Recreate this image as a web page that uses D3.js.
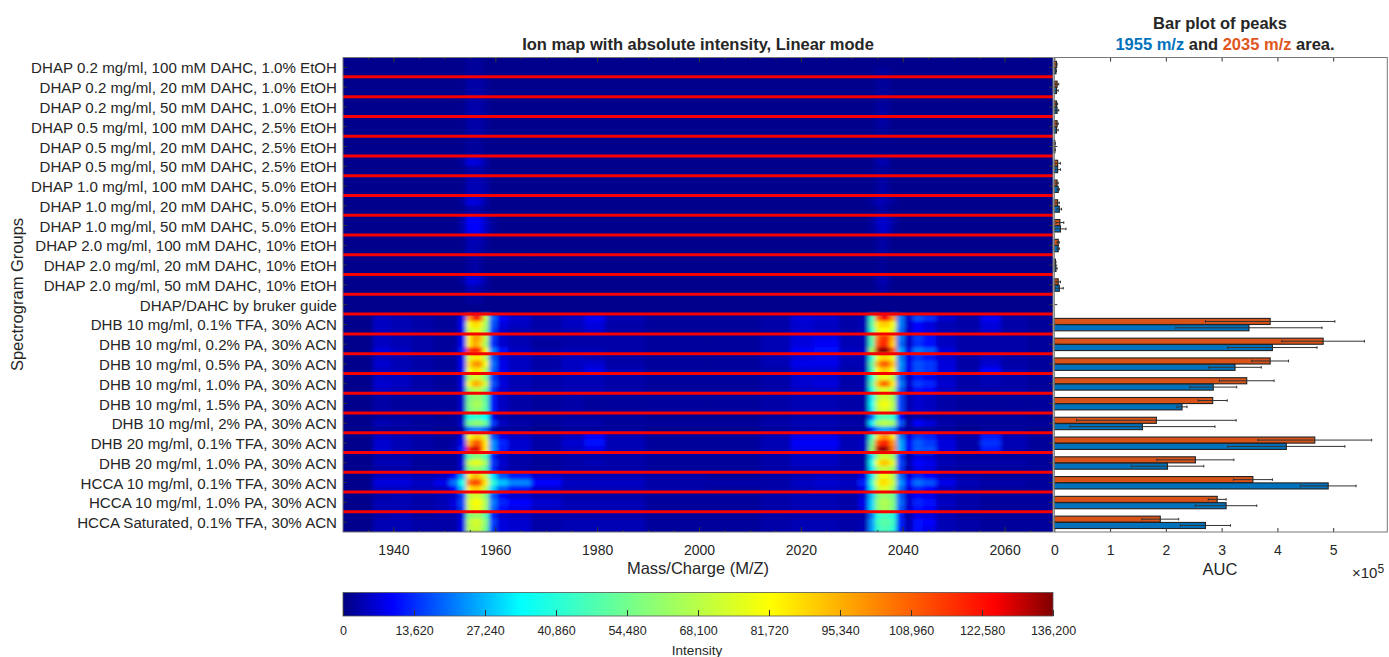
<!DOCTYPE html>
<html lang="en">

<head>
  <meta charset="UTF-8">
  <title>Ion map</title>
  <script src="https://d3js.org/d3.v7.min.js"></script>
  <style>
    body { margin: 0; background: #fff; }
    text { font-family: "Liberation Sans", Arial, sans-serif; fill: #262626; }
    .domain { display: none; }
    .tick line { stroke: #333; }
  </style>
</head>

<body>
  <div id="container"></div>

  <script>
    var groups = [
      "DHAP 0.2 mg/ml, 100 mM DAHC, 1.0% EtOH", "DHAP 0.2 mg/ml, 20 mM DAHC, 1.0% EtOH", "DHAP 0.2 mg/ml, 50 mM DAHC, 1.0% EtOH",
      "DHAP 0.5 mg/ml, 100 mM DAHC, 2.5% EtOH", "DHAP 0.5 mg/ml, 20 mM DAHC, 2.5% EtOH", "DHAP 0.5 mg/ml, 50 mM DAHC, 2.5% EtOH",
      "DHAP 1.0 mg/ml, 100 mM DAHC, 5.0% EtOH", "DHAP 1.0 mg/ml, 20 mM DAHC, 5.0% EtOH", "DHAP 1.0 mg/ml, 50 mM DAHC, 5.0% EtOH",
      "DHAP 2.0 mg/ml, 100 mM DAHC, 10% EtOH", "DHAP 2.0 mg/ml, 20 mM DAHC, 10% EtOH", "DHAP 2.0 mg/ml, 50 mM DAHC, 10% EtOH",
      "DHAP/DAHC by bruker guide", "DHB 10 mg/ml, 0.1% TFA, 30% ACN", "DHB 10 mg/ml, 0.2% PA, 30% ACN", "DHB 10 mg/ml, 0.5% PA, 30% ACN",
      "DHB 10 mg/ml, 1.0% PA, 30% ACN", "DHB 10 mg/ml, 1.5% PA, 30% ACN", "DHB 10 mg/ml, 2% PA, 30% ACN", "DHB 20 mg/ml, 0.1% TFA, 30% ACN",
      "DHB 20 mg/ml, 1.0% PA, 30% ACN", "HCCA 10 mg/ml, 0.1% TFA, 30% ACN", "HCCA 10 mg/ml, 1.0% PA, 30% ACN", "HCCA Saturated, 0.1% TFA, 30% ACN"
    ];

    // bar plot, units of 1e5
    var auc2035 = [0.04, 0.05, 0.04, 0.05, 0.01, 0.06, 0.05, 0.06, 0.10, 0.07, 0.02, 0.07, 0, 3.87, 4.82, 3.87, 3.45, 2.84, 1.83, 4.67, 2.53, 3.56, 2.92, 1.90];
    var err2035 = [0.01, 0.03, 0.02, 0.02, 0.01, 0.05, 0.02, 0.03, 0.07, 0.02, 0.01, 0.04, 0, 1.16, 0.74, 0.33, 0.49, 0.26, 1.43, 1.02, 0.69, 0.35, 0.16, 0.33];
    var auc1955 = [0.03, 0.04, 0.05, 0.04, 0.01, 0.06, 0.07, 0.09, 0.11, 0.07, 0.03, 0.09, 0, 3.49, 3.91, 3.24, 2.85, 2.29, 1.58, 4.16, 2.03, 4.91, 3.08, 2.71];
    var err1955 = [0.01, 0.03, 0.03, 0.03, 0.01, 0.05, 0.02, 0.04, 0.10, 0.02, 0.02, 0.07, 0, 1.31, 0.80, 0.47, 0.42, 0.09, 1.30, 1.05, 0.65, 0.50, 0.55, 0.45];

    var aucTicks = [0, 1, 2, 3, 4, 5];
    var mzTicks = [1940, 1960, 1980, 2000, 2020, 2040, 2060];
    var intensityTicks = [0, 13620, 27240, 40860, 54480, 68100, 81720, 95340, 108960, 122580, 136200];

    // m/z of each heatmap column
    var mzBins = [1934, 1938, 1941, 1946, 1950, 1952, 1953.5, 1955, 1956, 1957, 1958, 1959.5, 1961, 1964, 1970, 1976, 1979, 1984, 1995, 2008, 2016, 2020, 2025, 2030, 2032.5, 2034, 2035, 2036, 2037, 2038, 2039.5, 2041, 2043, 2045, 2048, 2053, 2057.5, 2061, 2068];

    // intensity in thousands; one list of spectra rows for each group, top to bottom
    var ionRows = [
      [[1,1,1,1,1,1,1,2,2,2,1,1,1,1,1,1,1,1,1,1,1,1,1,1,1,1,1,1,1,1,1,1,1,1,1,1,1,1,1],
       [1,1,1,1,1,1,1,2,2,2,1,1,1,1,1,1,1,1,1,1,1,1,1,1,1,1,2,2,2,1,1,1,1,1,1,1,1,1,1]],
      [[1,1,1,1,1,1,1,3,3,3,2,1,1,1,1,1,1,1,1,1,1,1,1,1,1,1,2,2,2,1,1,1,1,1,1,1,1,1,1],
       [1,1,1,1,1,1,1,3,3,3,2,1,1,1,1,1,1,1,1,1,1,1,1,1,1,1,2,2,2,1,1,1,1,1,1,1,1,1,1]],
      [[1,1,1,1,1,1,1,3,3,3,2,1,1,1,1,1,1,1,1,1,1,1,1,1,1,1,2,2,2,1,1,1,1,1,1,1,1,1,1],
       [1,1,1,1,1,1,1,3,4,3,2,1,1,1,1,1,1,1,1,1,1,1,1,1,1,1,2,3,2,1,1,1,1,1,1,1,1,1,1]],
      [[1,1,1,1,1,1,1,3,3,3,2,1,1,1,1,1,1,1,1,1,1,1,1,1,1,1,2,3,2,1,1,1,1,1,1,1,1,1,1],
       [1,1,1,1,1,1,1,3,3,3,2,1,1,1,1,1,1,1,1,1,1,1,1,1,1,1,2,2,2,1,1,1,1,1,1,1,1,1,1]],
      [[1,1,1,1,1,1,1,2,2,2,1,1,1,1,1,1,1,1,1,1,1,1,1,1,1,1,1,1,1,1,1,1,1,1,1,1,1,1,1],
       [1,1,1,1,1,1,1,2,2,2,1,1,1,1,1,1,1,1,1,1,1,1,1,1,1,1,1,1,1,1,1,1,1,1,1,1,1,1,1]],
      [[1,1,1,1,1,1,2,7,7,6,3,1,1,1,1,1,1,1,1,1,1,1,1,1,1,1,3,4,3,1,1,1,1,1,1,1,1,1,1],
       [1,1,1,1,1,1,1,3,3,3,2,1,1,1,1,1,1,1,1,1,1,1,1,1,1,1,2,2,2,1,1,1,1,1,1,1,1,1,1]],
      [[1,1,1,1,1,1,1,4,4,4,3,1,1,1,1,1,1,1,1,1,1,1,1,1,1,1,2,3,2,1,1,1,1,1,1,1,1,1,1],
       [1,1,1,1,1,1,1,4,4,4,3,1,1,1,1,1,1,1,1,1,1,1,1,1,1,1,2,3,2,1,1,1,1,1,1,1,1,1,1]],
      [[1,1,1,1,1,1,2,7,7,6,3,1,1,1,1,1,1,1,1,1,1,1,1,1,1,2,4,4,3,2,1,1,1,1,1,1,1,1,1],
       [1,1,1,1,1,1,1,3,4,3,2,1,1,1,1,1,1,1,1,1,1,1,1,1,1,1,2,3,2,1,1,1,1,1,1,1,1,1,1]],
      [[1,1,1,1,1,1,3,10,10,9,5,2,1,1,1,1,1,1,1,1,1,1,1,1,1,2,5,6,5,3,1,1,1,1,1,1,1,1,1],
       [1,1,1,1,1,1,3,9,10,9,5,2,1,1,1,1,1,1,1,1,1,1,1,1,1,2,4,6,5,2,1,1,1,1,1,1,1,1,1]],
      [[1,1,1,1,1,1,1,4,4,4,2,1,1,1,1,1,1,1,1,1,1,1,1,1,1,1,2,3,2,1,1,1,1,1,1,1,1,1,1],
       [1,1,1,1,1,1,1,4,4,3,2,1,1,1,1,1,1,1,1,1,1,1,1,1,1,1,2,3,2,1,1,1,1,1,1,1,1,1,1]],
      [[1,1,1,1,1,1,1,2,3,2,1,1,1,1,1,1,1,1,1,1,1,1,1,1,1,1,1,2,1,1,1,1,1,1,1,1,1,1,1],
       [1,1,1,1,1,1,1,2,3,2,1,1,1,1,1,1,1,1,1,1,1,1,1,1,1,1,1,2,1,1,1,1,1,1,1,1,1,1,1]],
      [[1,1,1,1,1,1,2,7,7,6,3,1,1,1,1,1,1,1,1,1,1,1,1,1,1,1,3,4,3,1,1,1,1,1,1,1,1,1,1],
       [1,1,1,1,1,1,1,4,4,3,2,1,1,1,1,1,1,1,1,1,1,1,1,1,1,1,2,3,2,1,1,1,1,1,1,1,1,1,1]],
      [[1,1,1,1,1,1,1,2,2,2,1,1,1,1,1,1,1,1,1,1,1,1,1,1,1,1,1,1,1,1,1,1,1,1,1,1,1,1,1],
       [1,1,1,1,1,1,1,1,1,1,1,1,1,1,1,1,1,1,1,1,1,1,1,1,1,1,1,1,1,1,1,1,1,1,1,1,1,1,1]],
      [[1,5,4,3,2,2,8,100,125,115,70,20,10,6,3,5,9,4,2,2,3,7,6,3,4,45,105,125,125,100,22,6,17,14,6,3,9,3,2],
       [1,5,4,3,2,2,9,80,88,85,65,18,7,5,3,5,7,3,2,2,3,6,5,3,4,50,85,90,90,80,22,6,10,7,4,3,7,3,2],
       [1,5,4,3,2,2,8,72,78,75,60,15,6,4,3,4,6,3,2,2,3,6,5,3,4,42,75,82,82,72,20,5,10,7,4,3,6,3,2]],
      [[1,5,4,3,2,2,9,85,100,95,70,15,6,4,3,3,3,3,2,2,4,7,8,4,4,50,105,118,115,95,22,6,15,11,5,3,3,3,2],
       [1,5,4,3,2,2,9,85,98,90,65,14,6,4,2,3,3,3,2,2,4,7,9,4,4,48,110,120,115,90,20,5,14,11,5,3,3,3,2],
       [1,7,5,3,2,3,12,115,125,115,80,22,11,5,3,4,4,3,2,2,4,9,11,5,5,65,130,136,133,110,26,8,21,18,7,3,3,3,2]],
      [[1,5,4,3,2,2,8,75,85,85,68,18,7,5,3,5,4,3,2,2,4,7,8,4,4,40,78,88,88,78,22,8,14,11,6,3,5,3,2],
       [1,6,4,3,2,2,9,88,100,100,80,21,8,5,3,5,6,3,2,2,4,8,8,4,4,50,95,110,108,92,24,8,17,15,7,3,6,3,2],
       [1,5,4,3,2,2,9,80,88,85,68,19,8,5,3,5,8,4,2,2,3,6,6,3,4,45,82,92,90,80,23,8,17,15,7,3,10,4,2]],
      [[1,5,5,3,2,2,7,65,75,72,58,15,6,4,3,4,4,3,2,2,3,6,6,3,3,38,72,78,78,68,18,5,11,8,5,3,4,3,2],
       [1,6,5,3,2,2,8,80,98,92,72,18,7,4,3,4,4,3,2,2,3,6,7,3,4,48,90,108,105,85,22,6,15,13,6,3,4,3,2],
       [1,5,4,3,2,2,7,62,70,68,55,14,6,4,3,4,4,3,2,2,3,5,5,3,3,38,68,76,75,65,18,5,11,10,5,3,3,3,2]],
      [[1,3,2,2,2,2,6,55,60,60,50,12,5,3,2,3,2,2,2,2,3,4,4,3,3,32,65,72,72,62,16,4,6,5,3,2,2,2,2],
       [1,3,2,2,2,2,6,58,65,65,52,12,5,3,2,3,2,2,2,2,3,4,4,3,3,35,72,80,80,68,16,4,6,5,3,2,2,2,2],
       [1,3,2,2,2,2,6,55,62,60,50,12,5,3,2,3,2,2,2,2,3,4,4,3,3,32,68,76,75,65,16,4,6,5,3,2,2,2,2]],
      [[1,2,2,2,1,2,4,38,42,42,35,8,3,2,2,2,2,2,1,1,2,3,3,2,2,18,42,48,48,42,10,2,3,2,2,2,2,2,1],
       [1,4,3,2,2,2,6,55,60,60,52,15,5,3,2,3,3,2,2,2,3,4,4,3,3,32,62,68,68,62,18,3,10,7,3,2,2,2,2],
       [1,2,2,2,1,1,3,20,22,22,18,4,2,2,1,2,2,2,1,1,2,3,3,2,2,10,22,25,25,22,5,2,2,2,2,1,2,2,1]],
      [[1,5,4,3,2,2,7,80,90,90,72,18,8,5,3,5,10,4,2,2,4,8,8,4,4,42,88,100,100,85,22,7,15,13,6,3,12,4,2],
       [1,6,4,3,2,3,9,95,112,108,85,24,13,6,3,6,11,4,2,2,4,9,9,4,5,55,110,122,118,100,26,9,18,15,7,3,14,4,2],
       [1,6,4,3,2,4,12,120,130,120,85,24,12,6,3,5,8,4,2,2,4,8,8,4,5,60,130,135,132,105,26,9,18,17,7,3,12,4,2]],
      [[1,3,3,2,2,2,6,50,58,58,48,12,5,3,2,3,3,3,2,2,3,5,5,3,3,30,62,72,72,62,14,3,7,6,3,2,2,2,2],
       [1,4,4,2,2,2,7,70,78,75,62,15,6,3,2,3,4,3,2,2,3,5,5,3,3,38,80,92,90,76,16,4,10,8,4,3,3,3,2],
       [1,3,3,2,2,2,6,58,62,60,50,13,5,3,2,3,3,3,2,2,3,4,4,3,3,32,62,72,70,62,15,3,8,7,3,2,2,2,2]],
      [[1,5,5,4,5,10,26,85,95,90,70,32,18,12,6,4,4,4,3,2,3,4,5,4,7,32,70,80,78,68,20,7,13,10,5,3,2,2,2],
       [1,7,7,5,8,20,38,105,115,108,85,42,28,22,10,5,5,5,3,3,3,5,6,5,12,42,78,88,85,72,24,10,20,17,8,4,3,3,2],
       [1,5,5,4,5,10,28,85,92,88,68,30,18,12,6,4,4,4,3,2,3,4,5,4,8,32,68,76,74,62,20,7,13,10,5,3,2,2,2]],
      [[1,3,4,3,4,5,14,68,75,72,58,18,9,6,4,3,3,3,2,2,3,4,4,3,6,28,55,62,60,55,18,6,10,8,4,3,2,2,2],
       [1,4,4,3,4,7,16,75,82,80,65,22,13,10,6,4,4,4,2,2,3,4,4,3,8,30,60,66,66,58,20,6,13,11,5,3,2,2,2],
       [1,4,4,3,4,6,15,72,80,78,62,20,11,8,5,4,4,4,2,2,3,4,4,3,7,30,58,65,64,56,18,6,11,10,4,3,2,2,2]],
      [[1,3,4,2,3,3,7,58,62,62,50,13,6,5,3,3,3,3,2,2,3,3,3,3,3,20,40,45,45,40,12,3,8,7,4,2,2,2,2],
       [1,4,4,3,3,3,8,68,75,72,58,16,7,6,3,4,4,4,2,2,3,4,4,3,4,24,45,50,50,45,13,4,11,10,4,3,2,2,2],
       [1,4,4,3,3,3,8,68,72,70,55,15,7,6,3,4,4,4,2,2,3,4,4,3,4,24,42,48,48,42,12,4,11,8,4,3,2,2,2]]
    ];

    var width = 1389, height = 657,
      mapLeft = 343, mapRight = 1053, barLeft = 1054.3, barRight = 1387.3,
      plotTop = 57.5, plotBottom = 532, orange = "#d95319", blue = "#0072bd";

    var svg = d3.select("#container").append("svg")
      .attr("width", width)
      .attr("height", height)
      .style("display", "block");

    var x = d3.scaleLinear().domain([1930.1, 2069.5]).range([mapLeft, mapRight]);
    var y = d3.scaleBand().domain(groups).range([plotTop, plotBottom]);
    var xBar = d3.scaleLinear().domain([0, 5.97]).range([barLeft, barRight]);

    // modified jet from the colorbar
    var color = d3.scaleLinear()
      .domain([0, 9.5, 34, 57, 82, 125, 136.2])
      .range(["#000080", "#0000ff", "#00ffff", "#80ff80", "#ffff00", "#ff0000", "#7f0000"]);

    var defs = svg.append("defs");
    defs.append("filter").attr("id", "soft")
      .attr("x", "-2%").attr("y", "-2%").attr("width", "104%").attr("height", "104%")
      .append("feGaussianBlur").attr("stdDeviation", "2 1.7");
    defs.append("clipPath").attr("id", "mapClip").append("rect")
      .attr("x", mapLeft).attr("y", plotTop).attr("width", mapRight - mapLeft).attr("height", plotBottom - plotTop);

    //cell edges halfway between the bins
    var edges = mzBins.map(function (d, i) {
      return i == 0 ? 1925 : (mzBins[i - 1] + d) / 2;
    });
    edges.push(2075);

    var map = svg.append("g").attr("clip-path", "url(#mapClip)");
    map.append("rect")
      .attr("x", mapLeft).attr("y", plotTop).attr("width", mapRight - mapLeft).attr("height", plotBottom - plotTop)
      .attr("fill", color(1));

    var cells = map.append("g").attr("filter", "url(#soft)");
    groups.forEach(function (g, gi) {
      var rows = ionRows[gi];
      var subBand = d3.scaleBand().domain(d3.range(rows.length)).range([y(g), y(g) + y.bandwidth()]);
      rows.forEach(function (row, ri) {
        cells.append("g").selectAll("rect")
          .data(row)
          .enter()
          .append("rect")
          .attr("x", function (d, i) { return x(edges[i]); })
          .attr("width", function (d, i) { return x(edges[i + 1]) - x(edges[i]) + 0.5; })
          .attr("y", subBand(ri))
          .attr("height", subBand.bandwidth() + 0.5)
          .attr("fill", function (d) { return color(d); });
      });
    });

    //red separators
    map.selectAll(".sep")
      .data(groups.slice(1))
      .enter()
      .append("line")
      .attr("class", "sep")
      .attr("x1", mapLeft).attr("x2", mapRight)
      .attr("y1", function (d) { return y(d) - 0.4; })
      .attr("y2", function (d) { return y(d) - 0.4; })
      .attr("stroke", "#f60000")
      .attr("stroke-width", 3);

    // map axes
    var minor = d3.range(1935, 2066, 5);
    svg.append("g").attr("transform", "translate(0," + plotBottom + ")")
      .call(d3.axisBottom(x).tickValues(minor).tickSize(-2).tickFormat(""));
    svg.append("g").attr("transform", "translate(0," + plotTop + ")")
      .call(d3.axisTop(x).tickValues(minor).tickSize(-2).tickFormat(""));
    svg.append("g").attr("transform", "translate(0," + plotBottom + ")")
      .call(d3.axisBottom(x).tickValues(mzTicks).tickSize(-5).tickPadding(13).tickFormat(d3.format("d")))
      .selectAll("text").style("font-size", "14px");
    svg.append("g").attr("transform", "translate(0," + plotTop + ")")
      .call(d3.axisTop(x).tickValues(mzTicks).tickSize(-5).tickFormat(""));

    var yAxis = svg.append("g").attr("transform", "translate(" + mapLeft + ",0)")
      .call(d3.axisLeft(y).tickSize(-4).tickPadding(6));
    yAxis.selectAll("text").style("font-size", "15.1px").attr("dy", "0.4em");
    svg.append("g").attr("transform", "translate(" + mapRight + ",0)")
      .call(d3.axisRight(y).tickSize(-4).tickFormat(""));

    svg.append("rect")
      .attr("x", mapLeft).attr("y", plotTop).attr("width", mapRight - mapLeft).attr("height", plotBottom - plotTop)
      .attr("fill", "none").attr("stroke", "#777").attr("stroke-width", 1);

    // bars: orange above blue in each band
    var inner = d3.scaleBand().domain(["o", "b"]).range([-6, 6.4]).paddingInner(0.04);
    var series = [
      { key: "o", vals: auc2035, errs: err2035, fill: orange },
      { key: "b", vals: auc1955, errs: err1955, fill: blue }
    ];
    var barPanel = svg.append("g");
    series.forEach(function (s) {
      var band = function (i) { return y(groups[i]) + y.bandwidth() / 2 + inner(s.key); };
      barPanel.append("g").selectAll("rect")
        .data(s.vals)
        .enter()
        .append("rect")
        .attr("x", xBar(0))
        .attr("y", function (d, i) { return band(i); })
        .attr("width", function (d) { return xBar(d) - xBar(0); })
        .attr("height", inner.bandwidth())
        .attr("fill", s.fill)
        .attr("stroke", "#222")
        .attr("stroke-width", function (d) { return d > 0 ? 1.1 : 0; });

      s.vals.forEach(function (d, i) {
        if (d == 0) return;
        var cy = band(i) + inner.bandwidth() / 2, lo = xBar(Math.max(d - s.errs[i], 0)), hi = xBar(d + s.errs[i]);
        var e = barPanel.append("g").attr("stroke", "#333").attr("stroke-width", 1);
        e.append("line").attr("x1", lo).attr("x2", hi).attr("y1", cy).attr("y2", cy);
        e.append("line").attr("x1", lo).attr("x2", lo).attr("y1", cy - 1.3).attr("y2", cy + 1.3);
        e.append("line").attr("x1", hi).attr("x2", hi).attr("y1", cy - 1.3).attr("y2", cy + 1.3);
      });
    });

    svg.append("g").attr("transform", "translate(0," + plotBottom + ")")
      .call(d3.axisBottom(xBar).tickValues(aucTicks).tickSize(-4).tickPadding(13).tickFormat(d3.format("d")))
      .selectAll("text").style("font-size", "14px");
    svg.append("g").attr("transform", "translate(0," + plotTop + ")")
      .call(d3.axisTop(xBar).tickValues(aucTicks).tickSize(-4).tickFormat(""));
    svg.append("g").attr("transform", "translate(" + barLeft + ",0)")
      .call(d3.axisRight(y).tickSize(3).tickFormat(""));
    svg.append("rect")
      .attr("x", barLeft).attr("y", plotTop).attr("width", barRight - barLeft).attr("height", plotBottom - plotTop)
      .attr("fill", "none").attr("stroke", "#777").attr("stroke-width", 1);

    // colorbar
    var cbLeft = 343, cbRight = 1053, cbTop = 592.5, cbBottom = 616;
    var xColor = d3.scaleLinear().domain([0, 136200]).range([cbLeft, cbRight]);
    var grad = defs.append("linearGradient").attr("id", "cb");
    grad.selectAll("stop")
      .data(color.domain())
      .enter()
      .append("stop")
      .attr("offset", function (d) { return d / 136.2; })
      .attr("stop-color", function (d) { return color(d); });
    svg.append("rect")
      .attr("x", cbLeft).attr("y", cbTop).attr("width", cbRight - cbLeft).attr("height", cbBottom - cbTop)
      .attr("fill", "url(#cb)").attr("stroke", "#555").attr("stroke-width", 0.8);
    svg.append("g").attr("transform", "translate(0," + cbBottom + ")")
      .call(d3.axisBottom(xColor).tickValues(intensityTicks).tickSize(-6).tickPadding(10).tickFormat(d3.format(",d")))
      .selectAll("text").style("font-size", "12.5px");

    // titles
    function label(tx, ty, str, size, weight, anchor) {
      return svg.append("text").attr("x", tx).attr("y", ty)
        .attr("text-anchor", anchor || "middle")
        .style("font-size", size + "px")
        .style("font-weight", weight || "normal")
        .text(str);
    }
    label(698, 50, "Ion map with absolute intensity, Linear mode", 16.5, "bold");
    label(1220, 29, "Bar plot of peaks", 16.5, "bold");
    var sub = label(1225, 50, "", 16.5, "bold");
    sub.append("tspan").style("fill", "#0072bd").text("1955 m/z");
    sub.append("tspan").text(" and ");
    sub.append("tspan").style("fill", "#e0561e").text("2035 m/z");
    sub.append("tspan").text(" area.");
    label(698, 574, "Mass/Charge (M/Z)", 16.5);
    label(1220, 575, "AUC", 16.5);
    var mult = label(1352, 578, "\u00d710", 15, "normal", "start");
    mult.append("tspan").attr("dy", -5).style("font-size", "12px").text("5");
    label(697, 655, "Intensity", 13.5);
    svg.append("text")
      .attr("transform", "translate(23,294.5) rotate(-90)")
      .attr("text-anchor", "middle")
      .style("font-size", "16.5px")
      .text("Spectrogram Groups");
  </script>
</body>

</html>
